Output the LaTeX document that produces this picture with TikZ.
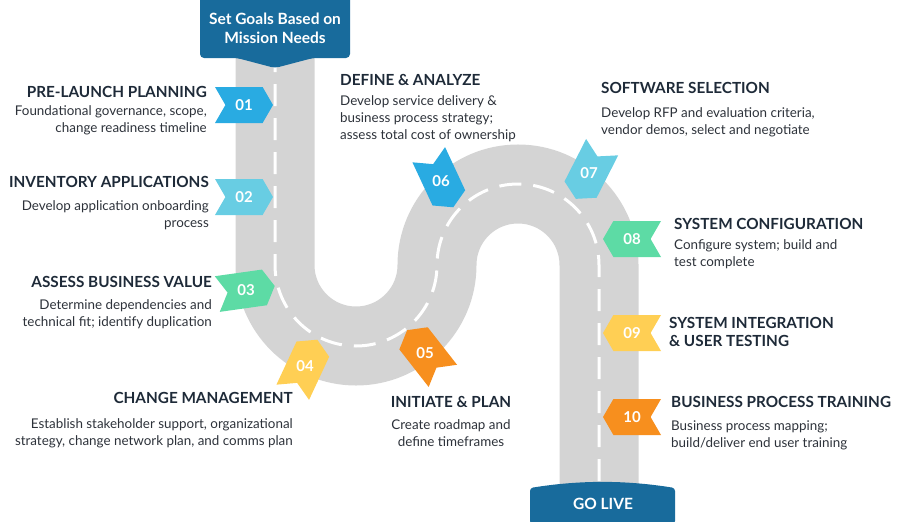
\documentclass[tikz,border=0pt]{standalone}
\usepackage{fontspec}
\setmainfont{Lato}
\usepackage{xcolor}
\usepackage{tikz}
\usetikzlibrary{shapes.symbols,positioning}
\definecolor{roadgrey}{RGB}{212, 212, 212}
\definecolor{navy}{RGB}{24, 107, 156}
\definecolor{ink}{RGB}{30, 42, 56}
\definecolor{bodytext}{RGB}{45, 50, 58}
\definecolor{mblue}{RGB}{41, 171, 226}
\definecolor{mcyan}{RGB}{104, 205, 227}
\definecolor{mgreen}{RGB}{93, 219, 165}
\definecolor{myellow}{RGB}{255, 207, 84}
\definecolor{morange}{RGB}{247, 143, 30}
\tikzstyle{milestone} = [signal, signal to=east, signal from=west, signal pointer angle=120, minimum width=58pt, minimum height=36pt, inner sep=0pt, text=white, font=\bfseries\fontsize{15}{15}\selectfont]
\tikzstyle{steptitle} = [inner sep=0pt, text=ink, font=\bfseries\fontsize{15.3}{18}\selectfont]
\tikzstyle{stepdesc}  = [inner sep=0pt, text=bodytext, font=\fontsize{13.4}{17}\selectfont]
\tikzstyle{bannertext} = [inner sep=0pt, text=white, align=center, font=\bfseries\fontsize{15.5}{19}\selectfont]

\begin{document}
\begin{tikzpicture}[x=1pt, y=-1pt]
\useasboundingbox (0,0) rectangle (900,522);

% road =============================
\path[draw=roadgrey, line width=79pt, postaction={draw=white, line width=3pt, dash pattern=on 22pt off 12pt}]
  (275,50) -- (275,265) arc[start angle=180, end angle=0, radius=81]
  arc[start angle=180, end angle=360, radius=81] -- (599,495);

% banners
\fill[navy, rounded corners=4pt] (200,-6) -- (350,-6) -- (350,58) -- (313,58) -- (275,68) -- (237,58) -- (200,58) -- cycle;
\node[bannertext] (goal) at (275,28) {Set Goals Based on\\Mission Needs};
\fill[navy, rounded corners=3pt] (530,488) .. controls (580,480) and (625,480) .. (675,488) -- (675,524) -- (530,524) -- cycle;
\node[bannertext] (live) at (603,504) {GO LIVE};

% milestones
\node[milestone, fill=mblue] (m01) at (244,105) {01};
\node[milestone, fill=mcyan] (m02) at (244,197) {02};
\node[milestone, fill=mgreen, rotate=8] (m03) at (246,290) {\rotatebox{-8}{03}};
\node[milestone, fill=myellow, rotate=65] (m04) at (305,366) {\rotatebox{-65}{04}};
\node[milestone, fill=morange, rotate=128] (m05) at (425,353) {\rotatebox{-128}{05}};
\node[milestone, fill=mblue, rotate=-65] (m06) at (441,181) {\rotatebox{65}{06}};
\node[milestone, fill=mcyan, rotate=-117] (m07) at (589,173) {\rotatebox{117}{07}};
\node[milestone, fill=mgreen, rotate=180] (m08) at (632,239) {\rotatebox{180}{08}};
\node[milestone, fill=myellow, rotate=180] (m09) at (632,333) {\rotatebox{180}{09}};
\node[milestone, fill=morange, rotate=180] (m10) at (632,417) {\rotatebox{180}{10}};

% left side texts
\node[steptitle, anchor=base east] (t01) at (207,97.5) {PRE-LAUNCH PLANNING};
\node[stepdesc, align=right, below=8pt of t01.base east, anchor=north east] (d01) {Foundational governance, scope,\\change readiness timeline};
\node[steptitle, anchor=base east] (t02) at (209,187.5) {INVENTORY APPLICATIONS};
\node[stepdesc, align=right, below=12.5pt of t02.base east, anchor=north east] (d02) {Develop application onboarding\\process};
\node[steptitle, anchor=base east] (t03) at (212,287.5) {ASSESS BUSINESS VALUE};
\node[stepdesc, align=right, below=11.5pt of t03.base east, anchor=north east] (d03) {Determine dependencies and\\technical fit; identify duplication};
\node[steptitle, anchor=base east] (t04) at (293,403.5) {CHANGE MANAGEMENT};
\node[stepdesc, align=right, below=14.5pt of t04.base east, anchor=north east] (d04) {Establish stakeholder support, organizational\\strategy, change network plan, and comms plan};
\node[steptitle, anchor=base] (t05) at (451,407.5) {INITIATE \& PLAN};
\node[stepdesc, align=center, below=12pt of t05.base, anchor=north] (d05) {Create roadmap and\\define timeframes};

% right side texts
\node[steptitle, anchor=base west] (t06) at (340,85.5) {DEFINE \& ANALYZE};
\node[stepdesc, align=left, below=10pt of t06.base west, anchor=north west] (d06) {Develop service delivery \&\\business process strategy;\\assess total cost of ownership};
\node[steptitle, anchor=base west] (t07) at (601,93.5) {SOFTWARE SELECTION};
\node[stepdesc, align=left, below=13.5pt of t07.base west, anchor=north west] (d07) {Develop RFP and evaluation criteria,\\vendor demos, select and negotiate};
\node[steptitle, anchor=base west] (t08) at (674,229) {SYSTEM CONFIGURATION};
\node[stepdesc, align=left, below=10pt of t08.base west, anchor=north west] (d08) {Configure system; build and\\test complete};
\node[steptitle, align=left, anchor=north west] (t09) at (669,317) {SYSTEM INTEGRATION\\\& USER TESTING};
\node[steptitle, anchor=base west] (t10) at (671,407) {BUSINESS PROCESS TRAINING};
\node[stepdesc, align=left, below=13.5pt of t10.base west, anchor=north west] (d10) {Business process mapping;\\build/deliver end user training};

\end{tikzpicture}
\end{document}
